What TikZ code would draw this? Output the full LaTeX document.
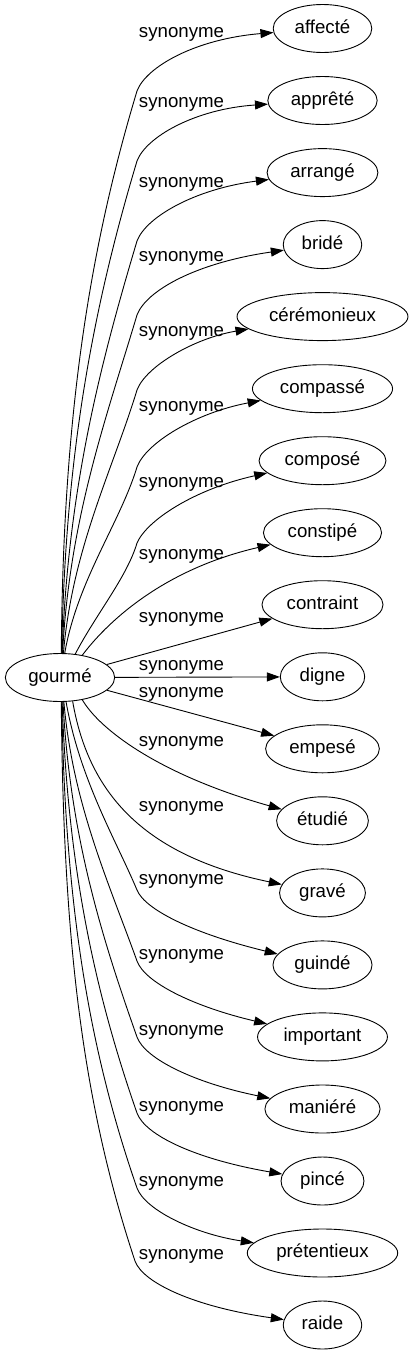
\documentclass[tikz,border=0pt]{standalone}
\usepackage{fontspec}
\setmainfont{Liberation Sans}
\usetikzlibrary{shapes.geometric,arrows.meta}
\begin{document}
\begin{tikzpicture}[x=1pt,y=1pt,
  word/.style={ellipse, draw, line width=0.9pt, minimum height=48pt, inner xsep=7pt, inner ysep=0pt,
    text height=13.4pt, text depth=3.9pt, font=\fontsize{18.67}{20}\selectfont},
  rel/.style={inner sep=0pt, text height=13.4pt, text depth=3.9pt, font=\fontsize{18.67}{20}\selectfont},
  link/.style={line width=0.9pt, -{Triangle[length=13pt,width=9pt]}}]
\fill[white] (0,0) rectangle (411,-1355);
\useasboundingbox (0,0) rectangle (411,-1355);
% nodes
\node[word] (g) at (60,-677.5) {gourmé};
\node[word] (n1) at (322.5,-28.5) {affecté};
\node[word] (n2) at (322.5,-100.5) {apprêté};
\node[word] (n3) at (322.5,-172.6) {arrangé};
\node[word] (n4) at (322.5,-244.6) {bridé};
\node[word] (n5) at (322.5,-316.6) {cérémonieux};
\node[word] (n6) at (322.5,-388.7) {compassé};
\node[word] (n7) at (322.5,-460.7) {composé};
\node[word] (n8) at (322.5,-532.7) {constipé};
\node[word] (n9) at (322.5,-604.7) {contraint};
\node[word] (n10) at (322.5,-676.8) {digne};
\node[word] (n11) at (322.5,-748.8) {empesé};
\node[word] (n12) at (322.5,-820.8) {étudié};
\node[word] (n13) at (322.5,-892.9) {gravé};
\node[word] (n14) at (322.5,-964.9) {guindé};
\node[word] (n15) at (322.5,-1036.9) {important};
\node[word] (n16) at (322.5,-1109) {maniéré};
\node[word] (n17) at (322.5,-1181) {pincé};
\node[word] (n18) at (322.5,-1253) {prétentieux};
\node[word] (n19) at (322.5,-1325) {raide};
% labels
\node[rel] (l1) at (181.5,-33) {synonyme};
\node[rel] (l2) at (181.5,-103) {synonyme};
\node[rel] (l3) at (181.5,-183) {synonyme};
\node[rel] (l4) at (181.5,-257) {synonyme};
\node[rel] (l5) at (181.5,-332) {synonyme};
\node[rel] (l6) at (181.5,-407) {synonyme};
\node[rel] (l7) at (181.5,-483) {synonyme};
\node[rel] (l8) at (181.5,-555) {synonyme};
\node[rel] (l9) at (181.5,-618) {synonyme};
\node[rel] (l10) at (181.5,-666) {synonyme};
\node[rel] (l11) at (181.5,-693) {synonyme};
\node[rel] (l12) at (181.5,-742) {synonyme};
\node[rel] (l13) at (181.5,-807) {synonyme};
\node[rel] (l14) at (181.5,-880) {synonyme};
\node[rel] (l15) at (181.5,-955) {synonyme};
\node[rel] (l16) at (181.5,-1031) {synonyme};
\node[rel] (l17) at (181.5,-1107) {synonyme};
\node[rel] (l18) at (181.5,-1182) {synonyme};
\node[rel] (l19) at (181.5,-1255) {synonyme};
% edges
\draw[link] (g.87) .. controls (63,-429) and (86,-260) .. (137,-91) .. controls (146,-67) and (195,-39) .. (n1);
\draw[link] (g.86) .. controls (65,-457) and (92.6,-309) .. (137,-161) .. controls (146,-137) and (195,-109) .. (n2);
\draw[link] (g.85) .. controls (68,-489) and (100,-365) .. (137,-241) .. controls (146,-217) and (195,-189) .. (n3);
\draw[link] (g.84) .. controls (69.5,-518) and (106.5,-417) .. (137,-315) .. controls (146,-291) and (195,-263) .. (n4);
\draw[link] (g.82) .. controls (72.4,-548) and (113,-469) .. (137,-390) .. controls (146,-366) and (195,-338) .. (n5);
\draw[link] (g.79) .. controls (77.5,-580) and (120,-523) .. (137,-467) .. controls (146,-443) and (195,-413) .. (n6);
\draw[link] (g.57) .. controls (95.5,-615) and (127,-577) .. (137,-543) .. controls (147,-520) and (195,-489) .. (n7);
\draw[link] (g.45) .. controls (105,-625) and (160,-570) .. (n8);
\draw[link] (g) -- (n9);
\draw[link] (g) -- (n10);
\draw[link] (g) -- (n11);
\draw[link] (g.-45) .. controls (100,-730) and (160,-775) .. (n12);
\draw[link] (g.-62) .. controls (88,-790) and (140,-855) .. (n13);
\draw[link] (g.-76) .. controls (80,-780) and (116,-840) .. (137,-890) .. controls (145,-910) and (195,-934) .. (n14);
\draw[link] (g.-81) .. controls (72.7,-804) and (108.9,-883) .. (137,-961) .. controls (145,-983) and (195,-1007) .. (n15);
\draw[link] (g.-83) .. controls (69.9,-835) and (101.3,-936) .. (137,-1037) .. controls (145,-1059) and (195,-1083) .. (n16);
\draw[link] (g.-85) .. controls (67.8,-865) and (93.7,-989) .. (137,-1113) .. controls (145,-1135) and (195,-1159) .. (n17);
\draw[link] (g.-86) .. controls (65,-895) and (86.2,-1042) .. (137,-1188) .. controls (145,-1210) and (195,-1234) .. (n18);
\draw[link] (g.-87) .. controls (63.2,-924) and (79,-1093) .. (135,-1261) .. controls (143,-1283) and (195,-1307) .. (n19);
\end{tikzpicture}
\end{document}
